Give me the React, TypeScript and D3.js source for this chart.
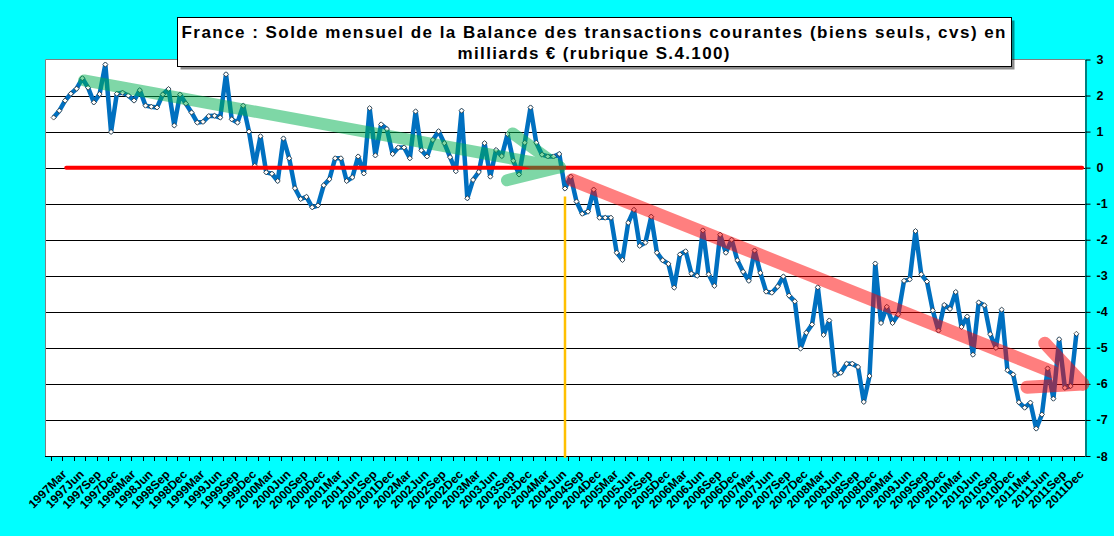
import React, { useEffect, useRef } from 'react';
import * as d3 from 'd3';

// categories: 1997Jan .. 2012Jan (axis slots), data runs 1997Feb .. 2011Dec
const MONTHS = ['Jan', 'Feb', 'Mar', 'Apr', 'May', 'Jun', 'Jul', 'Aug', 'Sep', 'Oct', 'Nov', 'Dec'];
const YEARS = d3.range(1997, 2013);
const categories = YEARS.flatMap(y => MONTHS.map(m => `${y}${m}`)).slice(0, 181);
const FIRST = 1; // index of 1997Feb

// monthly balance, billions EUR
const v1997 = [1.39, 1.58, 1.86, 2.05, 2.19, 2.48, 2.22, 1.81, 2.04, 2.86, 0.99]; // Feb..Dec
const v1998 = [2.05, 2.08, 2.0, 1.86, 2.15, 1.72, 1.69, 1.67, 2.03, 2.18, 1.17, 2.03];
const v1999 = [1.78, 1.53, 1.25, 1.27, 1.43, 1.44, 1.39, 2.59, 1.34, 1.25, 1.72, 1.0];
const v2000 = [0.05, 0.87, -0.13, -0.17, -0.37, 0.81, 0.26, -0.57, -0.87, -0.81, -1.1, -1.05];
const v2001 = [-0.49, -0.32, 0.26, 0.26, -0.37, -0.27, 0.31, -0.16, 1.65, 0.34, 1.2, 1.07];
const v2002 = [0.38, 0.56, 0.56, 0.26, 1.56, 0.48, 0.31, 0.77, 1.01, 0.68, 0.29, -0.1];
const v2003 = [1.58, -0.85, -0.34, -0.12, 0.68, -0.25, 0.49, 0.32, 0.93, 0.19, -0.19, 0.69];
const v2004 = [1.67, 0.69, 0.36, 0.31, 0.31, 0.38, -0.58, -0.25, -0.94, -1.28, -1.22, -0.61];
const v2005 = [-1.39, -1.39, -1.39, -2.36, -2.56, -1.53, -1.17, -2.17, -2.08, -1.36, -2.36, -2.57];
const v2006 = [-2.67, -3.33, -2.41, -2.32, -2.94, -3.0, -1.74, -2.96, -3.28, -1.86, -2.36, -2.0];
const v2007 = [-2.57, -2.89, -3.14, -2.3, -2.92, -3.44, -3.47, -3.3, -3.02, -3.55, -3.71, -5.02];
const v2008 = [-4.58, -4.35, -3.32, -4.64, -4.24, -5.75, -5.69, -5.44, -5.44, -5.53, -6.5, -5.78];
const v2009 = [-2.66, -4.31, -3.86, -4.31, -4.07, -3.14, -3.1, -1.76, -2.96, -3.16, -3.96, -4.52];
const v2010 = [-3.81, -3.92, -3.45, -4.42, -4.13, -5.19, -3.74, -3.82, -4.62, -5.0, -3.94, -5.62];
const v2011 = [-5.74, -6.51, -6.66, -6.52, -7.24, -6.85, -5.57, -6.41, -4.76, -6.11, -6.06, -4.61];

const values = [
  ...v1997, ...v1998, ...v1999, ...v2000, ...v2001, ...v2002, ...v2003, ...v2004,
  ...v2005, ...v2006, ...v2007, ...v2008, ...v2009, ...v2010, ...v2011,
];

const yTicks = d3.range(-8, 4);

const titleLines = [
  'France : Solde mensuel de la Balance des transactions courantes (biens seuls, cvs) en',
  'milliards € (rubrique S.4.100)',
];
const titleWidths = [824, 272];

// hand-drawn trend arrows, in (category index, value)
type Pt = [number, number];
const greenArrow: { from: Pt; to: Pt; heads: Pt[] } = {
  from: [6.3, 2.42], to: [89.1, 0.01], heads: [[80.9, 0.95], [79.9, -0.35]],
};
const redArrow: { from: Pt; to: Pt; heads: Pt[] } = {
  from: [91.2, -0.34], to: [180.1, -6.0], heads: [[173.5, -4.87], [170.4, -6.09]],
};
const zeroLine: Pt[] = [[3.2, 0], [180, 0]];
const marker: Pt[] = [[90, -0.8], [90, -8.05]]; // 2004Jul

const W = 1114;
const H = 536;
const plot = { left: 45, right: 1085, top: 59.5, bottom: 456 };
const FONT = 'Arial, "Liberation Sans", sans-serif';

const App: React.FC = () => {
  const svgRef = useRef<SVGSVGElement>(null);

  useEffect(() => {
    const svg = d3.select(svgRef.current);
    svg.selectAll('*').remove();

    svg.append('rect').attr('width', W).attr('height', H).attr('fill', '#00ffff');

    const x = d3.scaleBand().domain(categories).range([plot.left, plot.right]);
    const xi = d3.scaleLinear().domain([-0.5, categories.length - 0.5]).range([plot.left, plot.right]);
    const y = d3.scaleLinear().domain([-8, 3]).range([plot.bottom, plot.top]);
    const cx = (i: number) => x(categories[i])! + x.bandwidth() / 2;

    // plot area
    svg.append('rect')
      .attr('x', plot.left).attr('y', plot.top)
      .attr('width', plot.right - plot.left).attr('height', plot.bottom - plot.top)
      .attr('fill', '#fff');

    // gridlines
    svg.append('g').selectAll('line')
      .data(yTicks.filter(t => t > -8 && t < 3)).enter().append('line')
        .attr('x1', plot.left).attr('x2', plot.right)
        .attr('y1', d => Math.round(y(d)) + 0.5).attr('y2', d => Math.round(y(d)) + 0.5)
        .attr('stroke', '#000').attr('stroke-width', 1);

    // gray border left/top
    svg.append('path')
      .attr('d', `M${plot.left + 0.5},${plot.bottom}V${plot.top}H${plot.right}`)
      .attr('fill', 'none').attr('stroke', '#808080').attr('stroke-width', 1);

    // bottom axis: ticks every 2 months, labels every quarter
    const bottom = svg.append('g').attr('font-family', FONT).attr('font-weight', 'bold').attr('font-size', 12);
    const tickIdx = d3.range(1, categories.length, 2);
    bottom.selectAll('line')
      .data(tickIdx).enter().append('line')
        .attr('x1', d => Math.round(x(categories[d])!) + 0.5)
        .attr('x2', d => Math.round(x(categories[d])!) + 0.5)
        .attr('y1', plot.bottom).attr('y2', plot.bottom + 5)
        .attr('stroke', '#000');
    bottom.append('line')
      .attr('x1', plot.left).attr('x2', plot.right)
      .attr('y1', plot.bottom + 0.5).attr('y2', plot.bottom + 0.5)
      .attr('stroke', '#000');
    const labelIdx = d3.range(2, 180, 3);
    bottom.selectAll('text')
      .data(labelIdx).enter().append('text')
        .attr('transform', d => `translate(${cx(d) + 8},${plot.bottom + 19}) rotate(-45)`)
        .attr('text-anchor', 'end')
        .text(d => categories[d]);

    // right axis
    svg.append('g')
      .attr('transform', `translate(${plot.right + 0.5},0)`)
      .call(d3.axisRight(y).tickValues(yTicks).tickSize(5).tickSizeOuter(0).tickPadding(6)
        .tickFormat(d => String(d)))
      .call(g => g.selectAll('text')
        .attr('font-family', FONT).attr('font-weight', 'bold').attr('font-size', 12.5).attr('fill', '#000'))
      .call(g => g.selectAll('line,path').attr('stroke', '#000'));

    // series
    const line = d3.line<number>()
      .x((_, k) => cx(FIRST + k))
      .y(d => y(d));
    svg.append('path')
      .datum(values)
      .attr('d', line)
      .attr('fill', 'none')
      .attr('stroke', '#0070c0')
      .attr('stroke-width', 4.5)
      .attr('stroke-linejoin', 'round');

    const diamond = d3.symbol(d3.symbolSquare, 13);
    svg.append('g').selectAll('path')
      .data(values).enter().append('path')
        .attr('d', diamond)
        .attr('transform', (d, k) => `translate(${cx(FIRST + k)},${y(d)}) rotate(45)`)
        .attr('fill', '#fff').attr('stroke', '#222').attr('stroke-width', 0.7);

    // zero line
    const seg = d3.line<Pt>().x(d => xi(d[0])).y(d => y(d[1]));
    svg.append('path')
      .attr('d', seg(zeroLine))
      .attr('stroke', '#ff0000').attr('stroke-width', 4).attr('stroke-linecap', 'round').attr('fill', 'none');

    // 2004Jul marker
    svg.append('path')
      .attr('d', seg(marker))
      .attr('stroke', '#ffc000').attr('stroke-width', 2.5).attr('fill', 'none');

    // trend arrows
    const drawArrow = (a: { from: Pt; to: Pt; heads: Pt[] }, color: string, width: number) => {
      const g = svg.append('g').attr('opacity', 0.5);
      [[a.from, a.to], ...a.heads.map(h => [h, a.to])].forEach(s => {
        g.append('path')
          .attr('d', seg(s as Pt[]))
          .attr('fill', 'none')
          .attr('stroke', color)
          .attr('stroke-width', width)
          .attr('stroke-linecap', 'round')
          .attr('stroke-linejoin', 'round');
      });
    };
    drawArrow(greenArrow, '#00b050', 12);
    drawArrow(redArrow, '#ff0000', 13);

    // title box
    const tb = { x: 177.5, y: 17.5, w: 834, h: 49 };
    svg.append('rect')
      .attr('x', tb.x + 3).attr('y', tb.y + 3).attr('width', tb.w).attr('height', tb.h)
      .attr('fill', '#000').attr('opacity', 0.45);
    svg.append('rect')
      .attr('x', tb.x).attr('y', tb.y).attr('width', tb.w).attr('height', tb.h)
      .attr('fill', '#fff').attr('stroke', '#000').attr('stroke-width', 1);
    svg.append('g')
      .attr('font-family', FONT).attr('font-weight', 'bold').attr('font-size', 17)
      .selectAll('text')
      .data(titleLines).enter().append('text')
        .attr('x', tb.x + tb.w / 2 - 1)
        .attr('y', (_, i) => 37.5 + i * 21.5)
        .attr('text-anchor', 'middle')
        .attr('textLength', (_, i) => titleWidths[i])
        .attr('lengthAdjust', 'spacing')
        .text(d => d);
  }, []);

  return (
    <svg
      ref={svgRef}
      width={W}
      height={H}
      style={{ position: 'absolute', left: 0, top: 0, display: 'block' }}
    />
  );
};

export default App;
